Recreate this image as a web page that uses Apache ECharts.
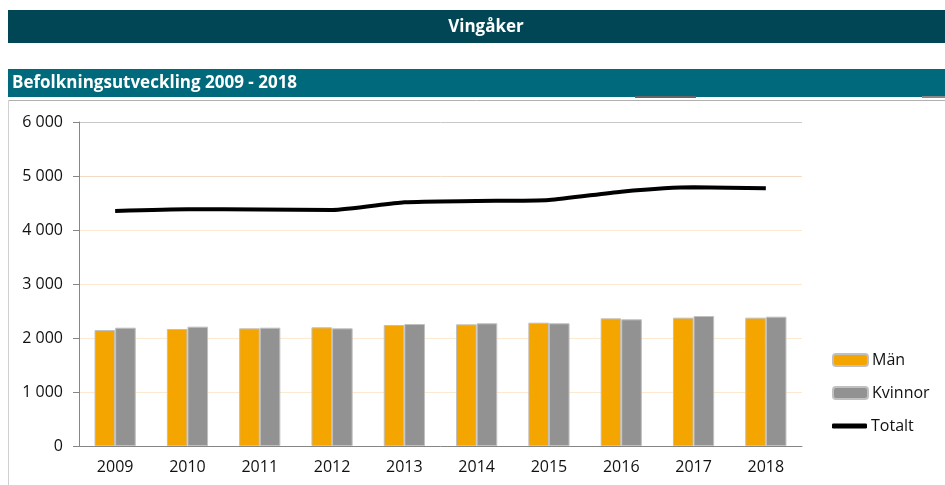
<!DOCTYPE html>
<html>
<head>
    <meta charset="utf-8">
    <title>Vingåker</title>
    <style type="text/css">
        body { margin: 0; background: #fff; }
        html, body, #chart { width: 945px; height: 485px; }
    </style>
</head>
<body>
    <div id="chart"></div>
    <script src="https://cdn.jsdelivr.net/npm/echarts@6/dist/echarts.min.js"></script>
    <script>
        var years = ['2009', '2010', '2011', '2012', '2013', '2014', '2015', '2016', '2017', '2018'];
        var man = [2148, 2167, 2179, 2198, 2241, 2253, 2284, 2364, 2377, 2377];
        var kvinnor = [2191, 2210, 2191, 2179, 2259, 2272, 2272, 2346, 2407, 2395];
        var totalt = [4352, 4383, 4380, 4370, 4513, 4537, 4556, 4710, 4790, 4772];
        var yTicks = [0, 1000, 2000, 3000, 4000, 5000, 6000];

        var font = '"Open Sans", "Noto Sans", sans-serif';
        var chart = echarts.init(document.getElementById('chart'));

        chart.setOption({
            animation: false,
            textStyle: { fontFamily: font },
            graphic: [
                { type: 'rect', shape: { x: 8, y: 10, width: 937, height: 33 }, style: { fill: '#004654' } },
                { type: 'text', x: 486, y: 27, style: { text: 'Vingåker', fill: '#fff', font: 'bold 17px ' + font, align: 'center', verticalAlign: 'middle' } },
                { type: 'rect', shape: { x: 8, y: 69, width: 937, height: 28 }, style: { fill: '#006a7c' } },
                { type: 'text', x: 12, y: 83, style: { text: 'Befolkningsutveckling 2009 - 2018', fill: '#fff', font: 'bold 17px ' + font, verticalAlign: 'middle' } },
                { type: 'rect', shape: { x: 635, y: 96, width: 61, height: 2 }, style: { fill: '#666' } },
                { type: 'rect', shape: { x: 922, y: 96, width: 23, height: 2 }, style: { fill: '#888' } },
                { type: 'line', shape: { x1: 8, y1: 100.5, x2: 945, y2: 100.5 }, style: { stroke: '#b0b0b0', lineWidth: 1 } },
                { type: 'line', shape: { x1: 8.5, y1: 100, x2: 8.5, y2: 485 }, style: { stroke: '#d0d0d0', lineWidth: 1 } }
            ],
            grid: { left: 79, right: 143, top: 122, bottom: 39 },
            legend: [
                {
                    orient: 'vertical',
                    left: 832,
                    top: 352,
                    padding: 0,
                    itemWidth: 35,
                    itemHeight: 12,
                    itemGap: 17,
                    textStyle: { fontSize: 16, color: '#111', fontFamily: font, padding: [0, 0, 0, -1] },
                    data: ['Män', 'Kvinnor']
                },
                {
                    orient: 'vertical',
                    left: 832,
                    top: 418,
                    padding: 0,
                    itemWidth: 35,
                    itemHeight: 5,
                    icon: 'roundRect',
                    textStyle: { fontSize: 16, color: '#111', fontFamily: font, padding: [0, 0, 0, -1] },
                    data: ['Totalt']
                }
            ],
            xAxis: {
                type: 'category',
                data: years,
                axisLine: { lineStyle: { color: '#868686' } },
                axisTick: { length: 6, lineStyle: { color: '#868686' } },
                axisLabel: { fontSize: 16, color: '#111', margin: 13 }
            },
            yAxis: {
                type: 'value',
                min: yTicks[0],
                max: yTicks[yTicks.length - 1],
                interval: 1000,
                axisLine: { show: true, lineStyle: { color: '#868686' } },
                axisTick: { show: true, length: 6, lineStyle: { color: '#868686' } },
                axisLabel: {
                    fontSize: 16, color: '#111', margin: 16,
                    formatter: function (v) { return v >= 1000 ? Math.floor(v / 1000) + ' 000' : String(v); }
                },
                splitLine: {
                    lineStyle: {
                        color: ['#fde8d0', '#fde8d0', '#fde8d0', '#fde8d0', '#fde8d0', '#f3dcc4', '#c8c8c8']
                    }
                }
            },
            series: [
                {
                    name: 'Män',
                    type: 'bar',
                    data: man,
                    barGap: '0%',
                    barCategoryGap: '43%',
                    itemStyle: { color: '#f5a500', borderColor: '#c0c0c0', borderWidth: 1 }
                },
                {
                    name: 'Kvinnor',
                    type: 'bar',
                    data: kvinnor,
                    itemStyle: { color: '#929292', borderColor: '#c0c0c0', borderWidth: 1 }
                },
                {
                    name: 'Totalt',
                    type: 'line',
                    data: totalt,
                    symbol: 'none',
                    smooth: 0.2,
                    itemStyle: { color: '#000' },
                    lineStyle: { color: '#000', width: 4 }
                }
            ]
        });
    </script>
</body>
</html>
